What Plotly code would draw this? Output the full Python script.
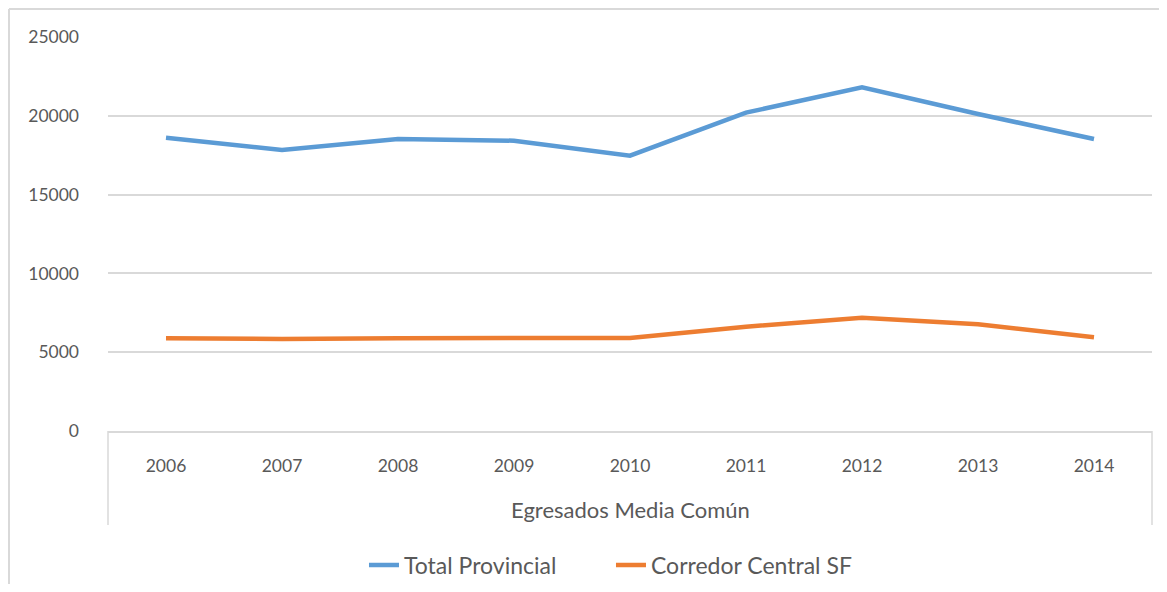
import plotly.graph_objects as go

years = ["2006", "2007", "2008", "2009", "2010", "2011", "2012", "2013", "2014"]
total_provincial = [18610, 17830, 18530, 18420, 17470, 20200, 21810, 20115, 18530]
corredor_central = [5880, 5840, 5890, 5900, 5900, 6620, 7190, 6770, 5950]
y_ticks = [0, 5000, 10000, 15000, 20000, 25000]
x_group_label = "Egresados Media Común"

FONT = "Lato"
GREY = "#595959"
GRID = "#D9D9D9"

fig = go.Figure()
fig.add_trace(go.Scatter(x=years, y=total_provincial, mode="lines", name="Total Provincial",
                         line=dict(color="#5B9BD5", width=4.5)))
fig.add_trace(go.Scatter(x=years, y=corredor_central, mode="lines", name="Corredor Central SF",
                         line=dict(color="#ED7D31", width=4.5)))

fig.update_layout(
    width=1159, height=576,
    margin=dict(l=100, r=15, t=29, b=153, autoexpand=False),
    paper_bgcolor="white", plot_bgcolor="white",
    font=dict(family=FONT, size=17, color=GREY),
    showlegend=True,
    legend=dict(orientation="h", x=0.2452, xanchor="left", y=-0.34, yanchor="middle",
                font=dict(family=FONT, size=23, color=GREY), itemwidth=30,
                entrywidth=202, entrywidthmode="pixels",
                traceorder="normal", bgcolor="rgba(0,0,0,0)"),
    xaxis=dict(type="category", showgrid=False, showline=True, linecolor=GRID, linewidth=1.5,
               ticks="", ticklabelstandoff=18, tickfont=dict(family=FONT, size=17.5, color=GREY),
               range=[-0.5, 8.5], zeroline=False),
    yaxis=dict(range=[0, 25000], tickvals=y_ticks, ticktext=[str(v) for v in y_ticks],
               showgrid=True, gridcolor=GRID, gridwidth=1.5,
               zeroline=False, showline=False, ticks="", ticklabelstandoff=28,
               tickfont=dict(family=FONT, size=17.5, color=GREY)),
)

fig.add_annotation(text=x_group_label, xref="paper", yref="paper", x=0.5, y=-0.2005,
                   xanchor="center", yanchor="middle", showarrow=False,
                   font=dict(family=FONT, size=22, color=GREY))

# category box side lines
for xp in (0, 1):
    fig.add_shape(type="line", xref="paper", yref="paper", x0=xp, x1=xp, y0=0, y1=-0.2386,
                  line=dict(color=GRID, width=1.5))

# outer chart frame (partially visible)
fx = -99.0 / 1044
fy = 1 + 28.0 / 394
fig.add_shape(type="line", xref="paper", yref="paper", x0=fx, x1=fx, y0=fy, y1=-0.6,
              line=dict(color=GRID, width=2))
fig.add_shape(type="line", xref="paper", yref="paper", x0=fx, x1=1.2, y0=fy, y1=fy,
              line=dict(color=GRID, width=2))

fig.write_html("out.html")
